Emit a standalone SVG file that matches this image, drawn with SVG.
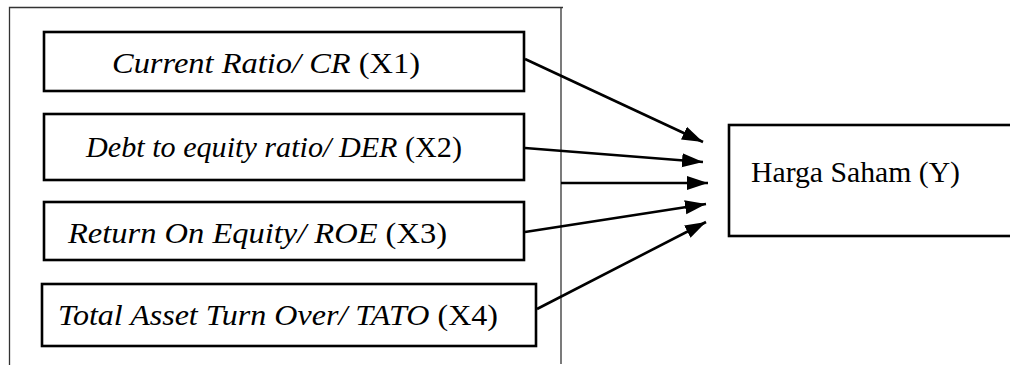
<svg xmlns="http://www.w3.org/2000/svg" width="1010" height="365" viewBox="0 0 1010 365">
  <style>
    .frame { fill: none; stroke: #333; stroke-width: 1.3; }
    .box { fill: #fff; stroke: #000; stroke-width: 2.6; }
    .lbl { font-family: "Liberation Serif", "Times New Roman", serif; font-size: 30px; fill: #000; }
    .it { font-style: italic; }
    .edge { stroke: #000; stroke-width: 2.6; fill: none; marker-end: url(#arrow); }
  </style>
  <defs>
    <marker id="arrow" markerUnits="userSpaceOnUse" markerWidth="22" markerHeight="16" refX="21" refY="8" orient="auto" viewBox="0 0 22 16">
      <path d="M0,1 L21,8 L0,15 Z" fill="#000"/>
    </marker>
  </defs>
  <rect width="1010" height="365" fill="#fff"/>

  <!-- enclosing bracket around the independent variables -->
  <g id="frame">
    <polyline class="frame" points="9.5,365 9.5,7.5 563,7.5"/>
    <line class="frame" x1="561" y1="7.5" x2="561" y2="364"/>
  </g>

  <g id="x1">
    <rect class="box" x="44" y="32" width="480" height="59"/>
    <text class="lbl" x="112" y="73" textLength="308" lengthAdjust="spacingAndGlyphs"><tspan class="it">Current Ratio/ CR</tspan> (X1)</text>
  </g>
  <g id="x2">
    <rect class="box" x="44" y="114" width="480" height="66"/>
    <text class="lbl" x="86" y="157" textLength="376" lengthAdjust="spacingAndGlyphs"><tspan class="it">Debt to equity ratio/ DER</tspan> (X2)</text>
  </g>
  <g id="x3">
    <rect class="box" x="44" y="202" width="480" height="58"/>
    <text class="lbl" x="68" y="243" textLength="379" lengthAdjust="spacingAndGlyphs"><tspan class="it">Return On Equity/ ROE</tspan> (X3)</text>
  </g>
  <g id="x4">
    <rect class="box" x="42" y="284" width="494" height="62"/>
    <text class="lbl" x="58" y="325" textLength="440" lengthAdjust="spacingAndGlyphs"><tspan class="it">Total Asset Turn Over/ TATO</tspan> (X4)</text>
  </g>
  <g id="y">
    <rect class="box" x="729" y="125" width="290" height="111"/>
    <text class="lbl" x="751" y="182" font-size="27" textLength="209" lengthAdjust="spacingAndGlyphs">Harga Saham (Y)</text>
  </g>

  <g id="connectors">
    <line class="edge" x1="525" y1="59" x2="703" y2="142"/>
    <line class="edge" x1="525" y1="148" x2="703" y2="162"/>
    <line class="edge" x1="561" y1="183" x2="708" y2="183"/>
    <line class="edge" x1="525" y1="232" x2="706" y2="204"/>
    <line class="edge" x1="537" y1="309" x2="706" y2="222"/>
  </g>
</svg>
